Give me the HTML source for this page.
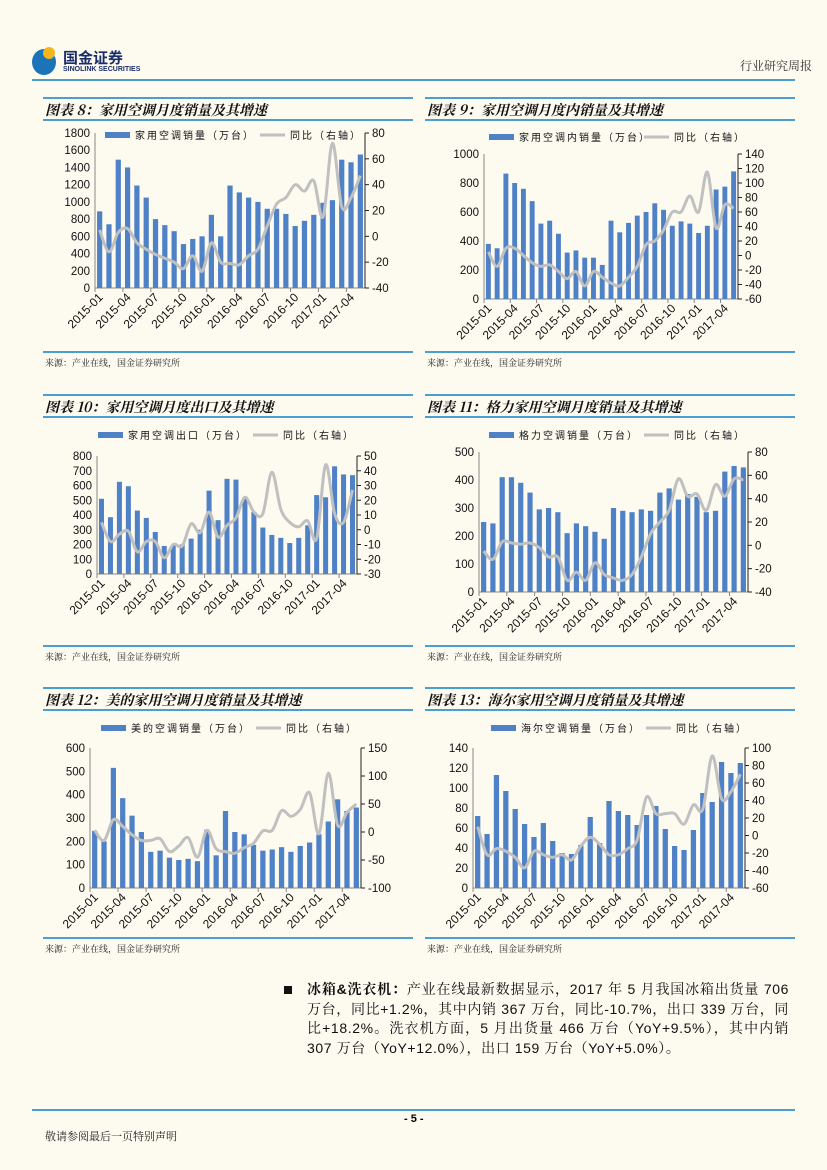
<!DOCTYPE html>
<html><head><meta charset="utf-8">
<style>
body{margin:0;background:#fdfaf0;}
#page{position:relative;width:827px;height:1170px;background:#fdfaf0;font-family:"Liberation Sans","Noto Sans CJK SC",sans-serif;overflow:hidden;}
.abs{position:absolute;}
.hl{position:absolute;height:2px;background:#4a9fd0;}
.title{position:absolute;font-family:"Noto Serif CJK SC","Liberation Serif",serif;font-weight:bold;font-style:italic;font-size:14px;color:#111;}
.src{position:absolute;font-size:9px;color:#222;font-family:"Liberation Serif","Noto Serif CJK SC",serif;}
svg text{font-family:"Liberation Sans","Noto Sans CJK SC",sans-serif;}
</style></head><body>
<div id="page">
  <div class="abs" style="left:30px;top:47px;width:125px;height:30px;">
    <div style="position:absolute;left:2px;top:2px;width:24px;height:26px;border-radius:50%;background:#1b74b8;"></div>
    <div style="position:absolute;left:13px;top:0;width:12px;height:12px;border-radius:50%;background:#f2b51e;"></div>
    <div style="position:absolute;left:33px;top:0;font-size:15px;font-weight:bold;color:#1a2d6b;font-family:'Noto Sans CJK SC',sans-serif;">国金证券</div>
    <div style="position:absolute;left:33px;top:19px;font-size:7px;font-weight:bold;color:#1a2d6b;">SINOLINK SECURITIES</div>
  </div>
  <div class="abs" style="left:740px;top:57px;font-size:12px;color:#333;font-family:'Noto Serif CJK SC',serif;">行业研究周报</div>
  <div class="hl" style="left:32px;top:79px;width:763px;"></div>

  <div class="hl" style="left:43px;top:97px;width:370px;"></div>
  <div class="hl" style="left:425px;top:97px;width:370px;"></div>
  <div class="title" style="left:45px;top:100px;">图表 8：家用空调月度销量及其增速</div>
  <div class="title" style="left:427px;top:100px;">图表 9：家用空调月度内销量及其增速</div>
  <div class="hl" style="left:43px;top:119px;width:370px;"></div>
  <div class="hl" style="left:425px;top:119px;width:370px;"></div>
  <div class="hl" style="left:43px;top:351px;width:370px;"></div>
  <div class="hl" style="left:425px;top:351px;width:370px;"></div>
  <div class="src" style="left:45px;top:356px;">来源：产业在线，国金证券研究所</div>
  <div class="src" style="left:427px;top:356px;">来源：产业在线，国金证券研究所</div>

  <div class="hl" style="left:43px;top:394px;width:370px;"></div>
  <div class="hl" style="left:425px;top:394px;width:370px;"></div>
  <div class="title" style="left:45px;top:397px;">图表 10：家用空调月度出口及其增速</div>
  <div class="title" style="left:427px;top:397px;">图表 11：格力家用空调月度销量及其增速</div>
  <div class="hl" style="left:43px;top:416px;width:370px;"></div>
  <div class="hl" style="left:425px;top:416px;width:370px;"></div>
  <div class="hl" style="left:43px;top:645px;width:370px;"></div>
  <div class="hl" style="left:425px;top:645px;width:370px;"></div>
  <div class="src" style="left:45px;top:650px;">来源：产业在线，国金证券研究所</div>
  <div class="src" style="left:427px;top:650px;">来源：产业在线，国金证券研究所</div>

  <div class="hl" style="left:43px;top:687px;width:370px;"></div>
  <div class="hl" style="left:425px;top:687px;width:370px;"></div>
  <div class="title" style="left:45px;top:690px;">图表 12：美的家用空调月度销量及其增速</div>
  <div class="title" style="left:427px;top:690px;">图表 13：海尔家用空调月度销量及其增速</div>
  <div class="hl" style="left:43px;top:709px;width:370px;"></div>
  <div class="hl" style="left:425px;top:709px;width:370px;"></div>
  <div class="hl" style="left:43px;top:937px;width:370px;"></div>
  <div class="hl" style="left:425px;top:937px;width:370px;"></div>
  <div class="src" style="left:45px;top:942px;">来源：产业在线，国金证券研究所</div>
  <div class="src" style="left:427px;top:942px;">来源：产业在线，国金证券研究所</div>

  <svg id="charts" class="abs" style="left:0;top:0;" width="827" height="1170"></svg>

  <div class="abs" style="left:284px;top:986px;width:8px;height:8px;background:#111;"></div>
  <div class="abs" style="left:307px;top:980px;width:482px;font-size:14px;line-height:19.5px;letter-spacing:0.6px;color:#111;text-align:justify;font-family:'Liberation Sans','Noto Serif CJK SC',serif;"><b>冰箱&amp;洗衣机：</b>产业在线最新数据显示，2017 年 5 月我国冰箱出货量 706 万台，同比+1.2%，其中内销 367 万台，同比-10.7%，出口 339 万台，同比+18.2%。洗衣机方面，5 月出货量 466 万台（YoY+9.5%），其中内销 307 万台（YoY+12.0%），出口 159 万台（YoY+5.0%）。</div>

  <div class="hl" style="left:32px;top:1109px;width:763px;"></div>
  <div class="abs" style="left:404px;top:1113px;font-size:11px;font-weight:bold;">- 5 -</div>
  <div class="abs" style="left:45px;top:1128px;font-size:11px;color:#222;font-family:'Noto Serif CJK SC',serif;">敬请参阅最后一页特别声明</div>
</div>
<script>
const cats = ["2015-01","2015-02","2015-03","2015-04","2015-05","2015-06","2015-07","2015-08","2015-09","2015-10","2015-11","2015-12","2016-01","2016-02","2016-03","2016-04","2016-05","2016-06","2016-07","2016-08","2016-09","2016-10","2016-11","2016-12","2017-01","2017-02","2017-03","2017-04","2017-05"];

const c8Bars = [890,740,1490,1400,1190,1050,800,730,660,510,570,600,850,600,1190,1110,1050,1000,920,920,860,720,780,850,990,1020,1490,1460,1550];
const c8Yoy = [5,-12,3,6,-5,-10,-14,-17,-20,-25,-15,-27,-5,-20,-21,-22,-15,-10,8,25,30,40,35,43,15,72,23,30,47];
const c8LeftTicks = [0,200,400,600,800,1000,1200,1400,1600,1800];
const c8RightTicks = [-40,-20,0,20,40,60,80];

const c9Bars = [380,350,865,800,760,675,520,540,450,320,335,285,285,235,540,460,525,575,600,660,615,505,535,520,455,505,755,775,880];
const c9Yoy = [5,-15,10,10,0,-10,-15,-13,-22,-32,-22,-42,-22,-30,-38,-42,-30,-15,15,20,35,60,60,82,60,115,38,70,65];
const c9LeftTicks = [0,200,400,600,800,1000];
const c9RightTicks = [-60,-40,-20,0,20,40,60,80,100,120,140];

const c10Bars = [510,385,625,595,430,380,285,190,195,200,240,300,565,365,645,640,520,420,315,265,245,210,245,330,535,520,730,675,670];
const c10Yoy = [5,-8,-3,-1,-15,-8,-8,-19,-10,-11,4,-2,12,-5,3,8,22,12,11,39,14,5,2,6,-6,44,11,5,27];
const c10LeftTicks = [0,100,200,300,400,500,600,700,800];
const c10RightTicks = [-30,-20,-10,0,10,20,30,40,50];

const c11Bars = [250,245,410,410,390,355,295,300,285,210,245,235,215,190,300,290,285,295,290,355,370,330,350,340,285,290,430,450,445];
const c11Yoy = [-5,-12,3,2,1,2,-2,-10,-10,-30,-23,-30,-15,-25,-28,-30,-25,-10,10,20,30,57,42,44,30,52,42,57,56];
const c11LeftTicks = [0,100,200,300,400,500];
const c11RightTicks = [-40,-20,0,20,40,60,80];

const c12Bars = [245,200,515,385,310,240,155,160,130,120,125,115,250,140,330,240,230,185,160,165,175,155,180,195,230,285,380,330,345];
const c12Yoy = [3,-15,22,10,-5,-15,-15,-12,-35,-25,-10,-45,3,-30,-35,-38,-28,-20,2,3,38,28,40,70,-3,105,12,35,50];
const c12LeftTicks = [0,100,200,300,400,500,600];
const c12RightTicks = [-100,-50,0,50,100,150];

const c13Bars = [72,54,113,97,79,64,51,65,47,35,34,43,71,45,87,77,73,63,73,82,59,42,38,58,95,86,126,115,125];
const c13Yoy = [10,-22,-15,-18,-25,-37,-18,-22,-25,-22,-28,-12,-2,-10,-22,-22,-15,-5,44,25,25,25,13,35,30,91,42,50,70];
const c13LeftTicks = [0,20,40,60,80,100,120,140];
const c13RightTicks = [-60,-40,-20,0,20,40,60,80,100];

const svg = document.getElementById('charts');
const NS = 'http://www.w3.org/2000/svg';
function mk(tag, attrs, parent){
  const e = document.createElementNS(NS, tag);
  for (const k in attrs) e.setAttribute(k, attrs[k]);
  (parent||svg).appendChild(e);
  return e;
}
function chart(id, box, bars, yoy, lt, rt, barLabel){
  const g = mk('g', {});
  
  
  const {L,R,T,B,legY,legX} = box;
  const lmin = lt[0], lmax = lt[lt.length-1], rmin = rt[0], rmax = rt[rt.length-1];
  const yL = v => B - (v-lmin)/(lmax-lmin)*(B-T);
  const yR = v => B - (v-rmin)/(rmax-rmin)*(B-T);
  const band = (R-L)/cats.length;
  const xC = i => L + band*(i+0.5);
  const ax = mk('line', {x1:L,y1:T,x2:L,y2:B,stroke:'#888','stroke-width':1}, g);
  
  
  const bx = mk('line', {x1:L,y1:B,x2:R,y2:B,stroke:'#888','stroke-width':1}, g);
  
  
  const rx = mk('line', {x1:R,y1:T,x2:R,y2:B,stroke:'#222','stroke-width':1}, g);
  
  
  lt.forEach(v => {
    const t = mk('text', {x:L-5,y:yL(v)+4,'text-anchor':'end','font-size':11.5,fill:'#111'}, g);
    t.textContent = v;
    
    
  });
  rt.forEach(v => {
    mk('line', {x1:R,y1:yR(v),x2:R+4,y2:yR(v),stroke:'#222'}, g);
    const t = mk('text', {x:R+7,y:yR(v)+4,'font-size':11.5,fill:'#111'}, g);
    t.textContent = v;
    
    
  });
  bars.forEach((v,i) => {
    const r = mk('rect', {x:xC(i)-band*0.28,y:yL(v),width:band*0.56,height:B-yL(v),fill:'#4f81c7'}, g);
    
    
  });
  cats.forEach((c,i) => {
    if (i%3===0){
      mk('line', {x1:L+band*i,y1:B,x2:L+band*i,y2:B+4,stroke:'#888'}, g);
      const t = mk('text', {x:xC(i)+4,y:B+10,'text-anchor':'end','font-size':12,fill:'#111',transform:`rotate(-45 ${xC(i)+4} ${B+10})`}, g);
      t.textContent = c;
      
      
    }
  });
  const pts = yoy.map((v,i)=>[xC(i), yR(v)]);
  let d = `M${pts[0][0]},${pts[0][1]}`;
  for (let i=0;i<pts.length-1;i++){
    const p0 = pts[i-1]||pts[i], p1=pts[i], p2=pts[i+1], p3=pts[i+2]||p2;
    const c1x = p1[0]+(p2[0]-p0[0])/6, c1y = p1[1]+(p2[1]-p0[1])/6;
    const c2x = p2[0]-(p3[0]-p1[0])/6, c2y = p2[1]-(p3[1]-p1[1])/6;
    d += ` C${c1x},${c1y} ${c2x},${c2y} ${p2[0]},${p2[1]}`;
  }
  const ln = mk('path', {d, fill:'none', stroke:'#c0c0c0','stroke-width':3}, g);
  
  
  const lg = mk('g', {}, g);
  
  
  mk('rect', {x:legX,y:legY-3,width:25,height:6,fill:'#4f81c7'}, lg);
  const t1 = mk('text', {x:legX+30,y:legY+4,'font-size':10,'letter-spacing':2,fill:'#111','font-family':'Noto Serif CJK SC,serif'}, lg);
  t1.textContent = barLabel;
  mk('line', {x1:legX+155,y1:legY,x2:legX+180,y2:legY,stroke:'#c0c0c0','stroke-width':3}, lg);
  const t2 = mk('text', {x:legX+185,y:legY+4,'font-size':10,'letter-spacing':2,fill:'#111','font-family':'Noto Serif CJK SC,serif'}, lg);
  t2.textContent = '同比（右轴）';
}
chart('chart8', {L:95,R:365,T:133,B:288,legY:135,legX:105}, c8Bars, c8Yoy, c8LeftTicks, c8RightTicks, '家用空调销量（万台）');
chart('chart9', {L:484,R:738,T:154,B:299,legY:137,legX:489}, c9Bars, c9Yoy, c9LeftTicks, c9RightTicks, '家用空调内销量（万台）');
chart('chart10', {L:97,R:357,T:456,B:574,legY:435,legX:98}, c10Bars, c10Yoy, c10LeftTicks, c10RightTicks, '家用空调出口（万台）');
chart('chart11', {L:479,R:748,T:452,B:592,legY:435,legX:489}, c11Bars, c11Yoy, c11LeftTicks, c11RightTicks, '格力空调销量（万台）');
chart('chart12', {L:90,R:361,T:748,B:888,legY:728,legX:101}, c12Bars, c12Yoy, c12LeftTicks, c12RightTicks, '美的空调销量（万台）');
chart('chart13', {L:473,R:745,T:748,B:888,legY:728,legX:491}, c13Bars, c13Yoy, c13LeftTicks, c13RightTicks, '海尔空调销量（万台）');
</script>
</body></html>
